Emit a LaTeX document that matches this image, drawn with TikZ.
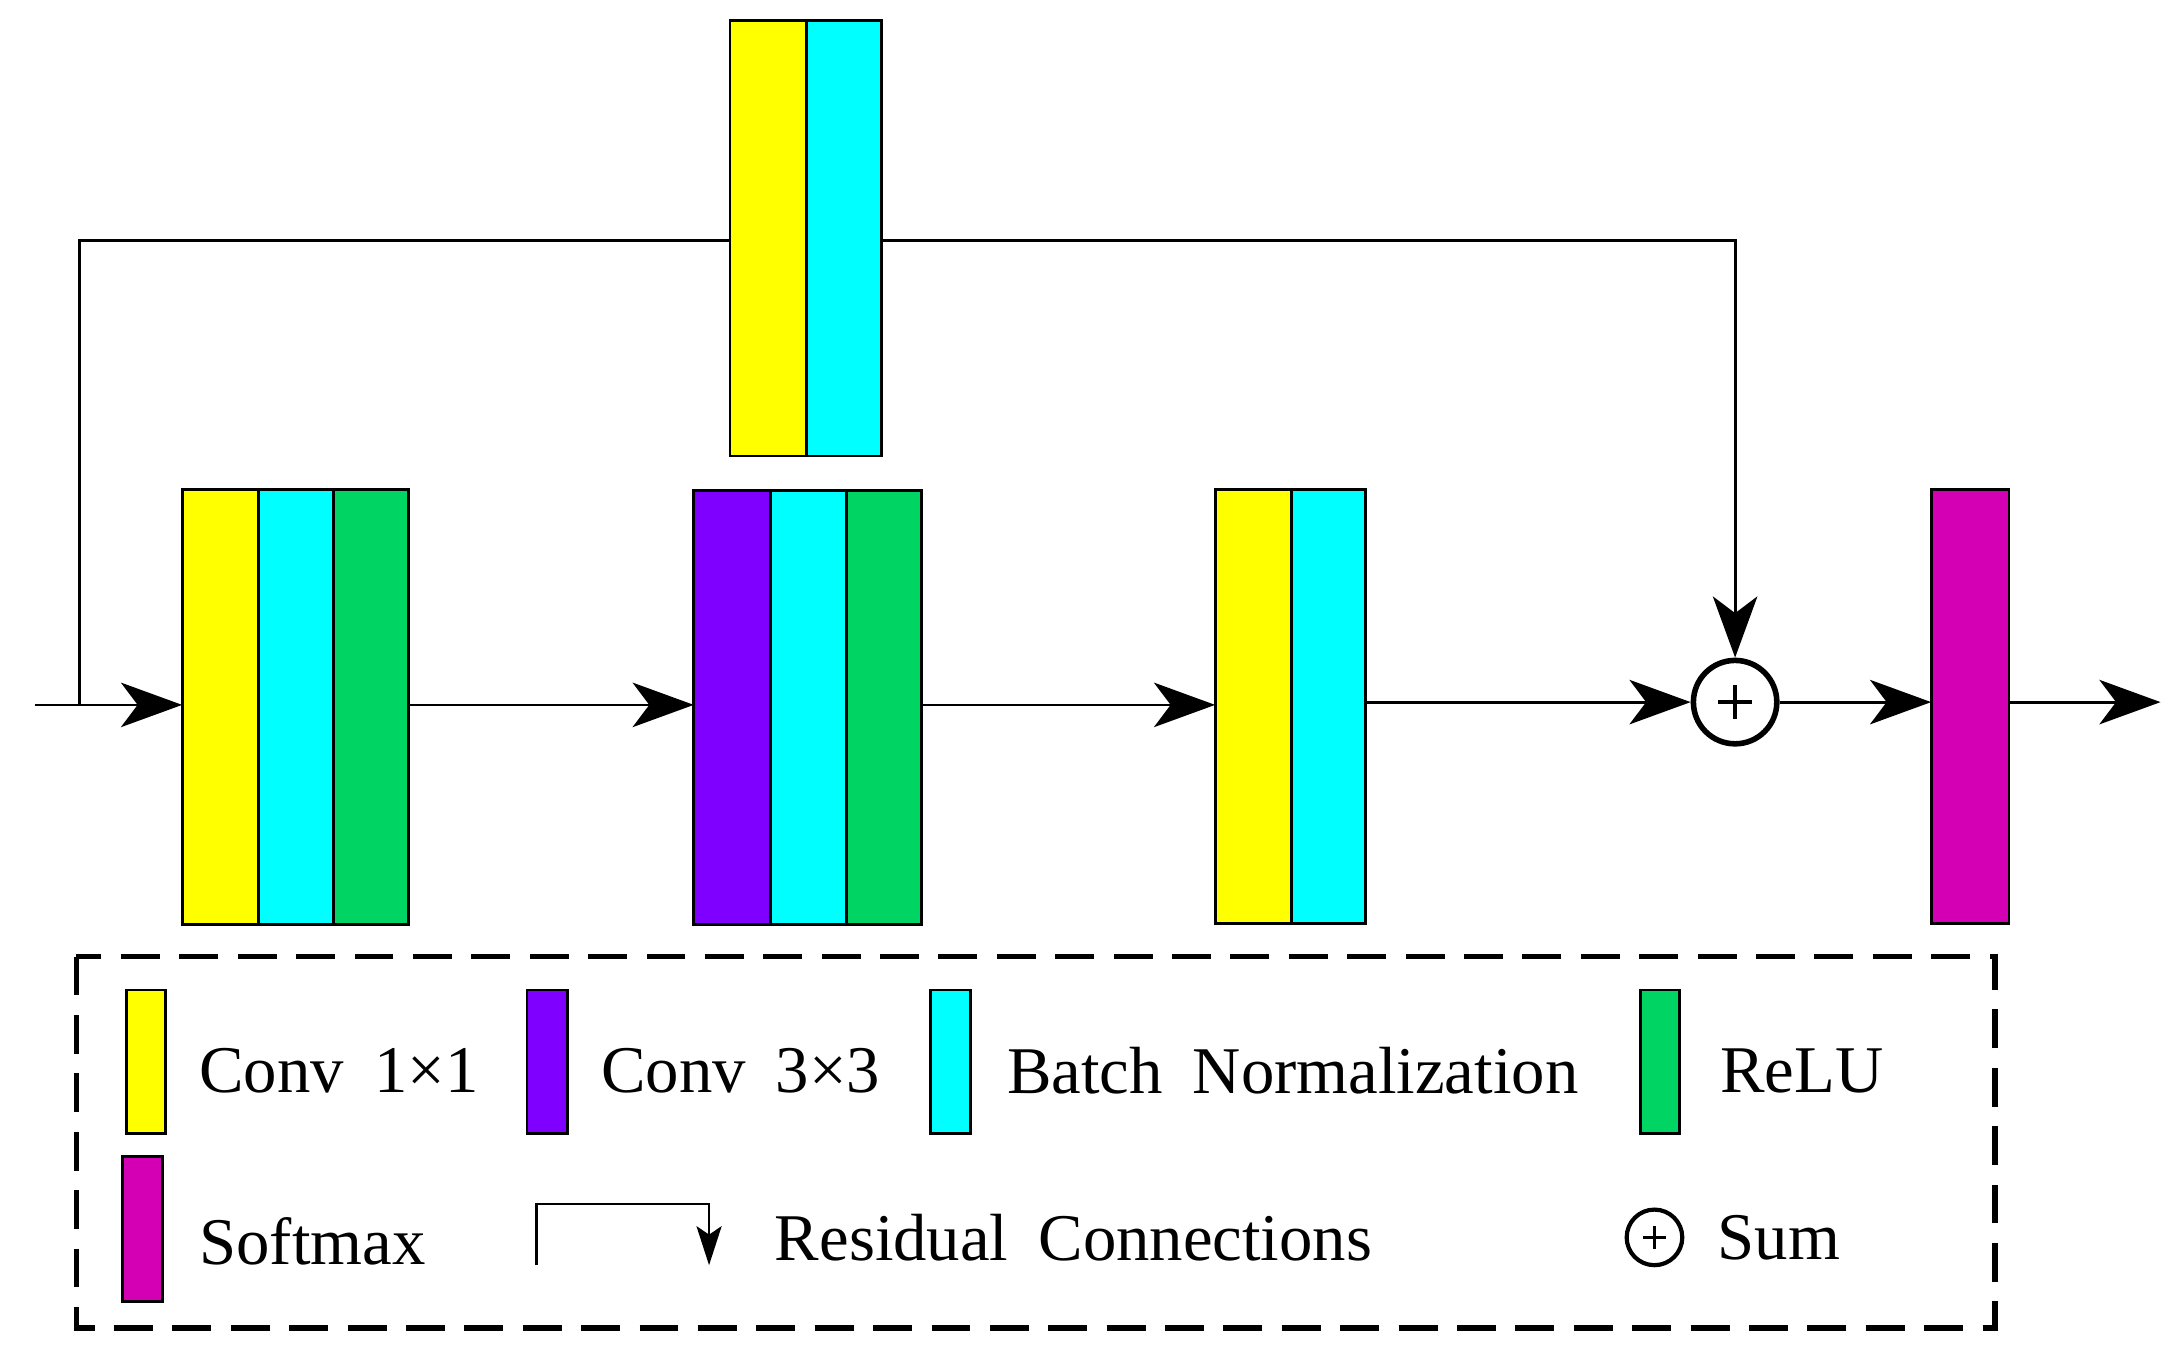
\documentclass[tikz,border=0pt]{standalone}
\usepackage{fontspec}
\setmainfont{Liberation Serif}[WordSpace={1.8}]
\usetikzlibrary{arrows.meta}
\definecolor{cy}{HTML}{FFFF00}
\definecolor{cc}{HTML}{00FFFF}
\definecolor{cg}{HTML}{00D462}
\definecolor{cp}{HTML}{8000FF}
\definecolor{cmag}{HTML}{D400B4}
\begin{document}
\begin{tikzpicture}[x=0.5pt,y=-0.5pt,
  blk/.style={draw=black,line width=1pt},
  con/.style={line width=1pt},
  arr/.style={con,-{Stealth[length=22pt,width=16pt,inset=6pt]}},
  lbl/.style={anchor=west,font=\fontsize{24}{26}\selectfont,inner sep=0pt}]
\useasboundingbox (0,0) rectangle (1568,985);
% top block
\fill[cy,blk] (525,15) rectangle (580,328);
\fill[cc,blk] (580,15) rectangle (634,328);
\coordinate (tl) at (525,173); \coordinate (tr) at (634,173);
% block1
\fill[cy,blk] (131,352) rectangle (186,665);
\fill[cc,blk] (186,352) rectangle (240,665);
\fill[cg,blk] (240,352) rectangle (294,665);
% block2
\fill[cp,blk] (499,353) rectangle (554,665);
\fill[cc,blk] (554,353) rectangle (609,665);
\fill[cg,blk] (609,353) rectangle (663,665);
% block3
\fill[cy,blk] (874,352) rectangle (929,664);
\fill[cc,blk] (929,352) rectangle (982,664);
% softmax
\fill[cmag,blk] (1389,352) rectangle (1445,664);
% sum
\node[circle,draw,line width=2pt,minimum size=30pt,inner sep=0pt] (sum) at (1248,505) {};
\draw[line width=1.5pt] (1236,505)--(1260,505) (1248,493)--(1248,517);
% coordinates
\coordinate (in) at (25,507); \coordinate (b1l) at (131,507); \coordinate (b1r) at (294,507);
\coordinate (b2l) at (499,507); \coordinate (b2r) at (663,507);
\coordinate (b3l) at (874,507); \coordinate (b3r) at (982,505);
\coordinate (sml) at (1389,505); \coordinate (smr) at (1445,505); \coordinate (out) at (1554,505);
\coordinate (br) at (57,507);
\draw[arr] (in)--(b1l);
\draw[arr] (b1r)--(b2l);
\draw[arr] (b2r)--(b3l);
\draw[arr] (b3r)--(sum.west);
\draw[arr] (sum.east)--(sml);
\draw[arr] (smr)--(out);
\draw[con] (br)--(57,173)--(tl);
\draw[arr] (tr)--(1248,173)--(sum.north);
% legend
\draw[line width=2pt,dash pattern=on 14pt off 7pt] (55,688) rectangle (1435,955);
\fill[cy,blk] (91,712) rectangle (119,815);
\fill[cp,blk] (379,712) rectangle (408,815);
\fill[cc,blk] (669,712) rectangle (698,815);
\fill[cg,blk] (1180,712) rectangle (1208,815);
\fill[cmag,blk] (88,832) rectangle (117,936);
\node[lbl] (t1) at (143,770) {Conv 1×1};
\node[lbl] (t2) at (432,770) {Conv 3×3};
\node[lbl] (t3) at (724,770) {Batch Normalization};
\node[lbl] (t4) at (1237,770) {ReLU};
\node[lbl] (t5) at (143,893) {Softmax};
\node[lbl] (t6) at (557,890) {Residual Connections};
\node[lbl] (t7) at (1235,890) {Sum};
\draw[con,-{Stealth[length=14pt,width=9pt,inset=3pt]}] (386,910)--(386,866)--(510,866)--(510,910);
\node[circle,draw,line width=1.5pt,minimum size=20pt,inner sep=0pt] (ls) at (1190,890) {};
\draw[line width=1.2pt] (1182,890)--(1198,890) (1190,882)--(1190,898);
\end{tikzpicture}
\end{document}
